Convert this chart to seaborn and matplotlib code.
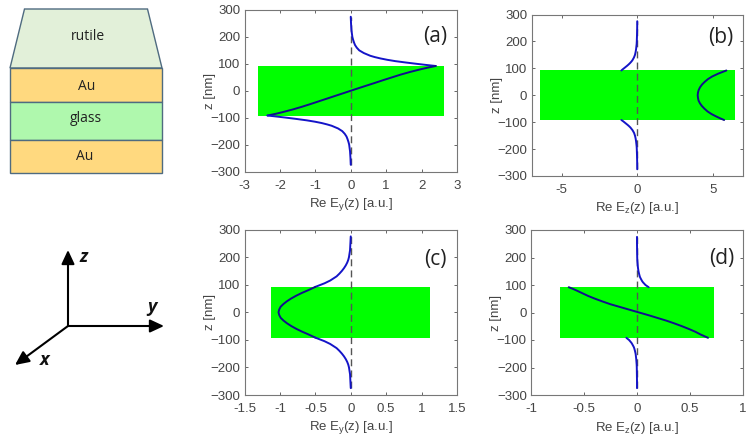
import matplotlib
matplotlib.use("Agg")
import matplotlib.pyplot as plt
from matplotlib.patches import Polygon, Rectangle
import seaborn as sns

W, H = 755, 446

# z grid of the outer branches and of the film
z_top = [92, 96, 100, 105, 110, 115, 120, 125, 130, 140, 150, 160, 170, 180, 190, 200, 225, 250, 275]
z_film = [92, 86, 80, 70, 60, 50, 40, 30, 20, 10, 0, -10, -20, -30, -40, -50, -60, -70, -80, -86, -92]
z_bot = [-v for v in z_top]

# (a)
a_top = [2.40, 2.12, 1.86, 1.55, 1.26, 1.03, 0.84, 0.68, 0.55, 0.37, 0.24, 0.17, 0.12, 0.09, 0.065, 0.045, 0.02, 0.008, 0.0]
a_film = [2.40, 2.18, 1.98, 1.68, 1.41, 1.17, 0.93, 0.70, 0.465, 0.23, 0.0, -0.23, -0.46, -0.69, -0.92, -1.15, -1.39, -1.65, -1.94, -2.13, -2.35]
a_bot = [-2.35, -2.08, -1.82, -1.52, -1.24, -1.01, -0.82, -0.67, -0.54, -0.36, -0.24, -0.17, -0.12, -0.09, -0.065, -0.045, -0.02, -0.008, 0.0]
# (b)
b_top = [-1.05, -0.97, -0.88, -0.77, -0.66, -0.56, -0.47, -0.39, -0.32, -0.22, -0.15, -0.11, -0.08, -0.06, -0.04, -0.03, -0.015, -0.005, 0.0]
b_film = [5.90, 5.62, 5.35, 4.97, 4.68, 4.47, 4.29, 4.16, 4.07, 4.02, 4.00, 4.02, 4.06, 4.15, 4.28, 4.45, 4.65, 4.92, 5.27, 5.50, 5.75]
b_bot = [-1.05, -0.95, -0.86, -0.75, -0.64, -0.54, -0.45, -0.38, -0.31, -0.21, -0.15, -0.11, -0.08, -0.06, -0.04, -0.03, -0.015, -0.005, 0.0]
# (c)
c_top = [-0.50, -0.46, -0.42, -0.37, -0.33, -0.29, -0.26, -0.23, -0.20, -0.16, -0.125, -0.095, -0.07, -0.05, -0.035, -0.025, -0.01, -0.005, 0.0]
c_film = [-0.50, -0.55, -0.60, -0.69, -0.77, -0.84, -0.90, -0.95, -0.99, -1.01, -1.02, -1.01, -0.99, -0.95, -0.90, -0.84, -0.77, -0.69, -0.60, -0.55, -0.50]
c_bot = c_top
# (d)
d_top = [0.11, 0.095, 0.08, 0.068, 0.056, 0.047, 0.04, 0.033, 0.027, 0.02, 0.014, 0.01, 0.007, 0.005, 0.003, 0.002, 0.001, 0.0, 0.0]
d_film = [-0.644, -0.605, -0.57, -0.515, -0.46, -0.395, -0.325, -0.25, -0.16, -0.07, 0.02, 0.11, 0.195, 0.28, 0.355, 0.425, 0.49, 0.55, 0.60, 0.635, 0.67]
d_bot = [-0.10, -0.088, -0.075, -0.064, -0.053, -0.045, -0.038, -0.031, -0.026, -0.019, -0.013, -0.01, -0.007, -0.005, -0.003, -0.002, -0.001, 0.0, 0.0]

xlabels = ["Re E$_y$(z) [a.u.]", "Re E$_z$(z) [a.u.]", "Re E$_y$(z) [a.u.]", "Re E$_z$(z) [a.u.]"]
panel_names = ["(a)", "(b)", "(c)", "(d)"]
xticks = [[-3, -2, -1, 0, 1, 2, 3], [-5, 0, 5], [-1.5, -1, -0.5, 0, 0.5, 1, 1.5], [-1, -0.5, 0, 0.5, 1]]
xticklabels = [["-3", "-2", "-1", "0", "1", "2", "3"], ["-5", "0", "5"],
               ["-1.5", "-1", "-0.5", "0", "0.5", "1", "1.5"], ["-1", "-0.5", "0", "0.5", "1"]]
xlims = [(-3, 3), (-7, 7), (-1.5, 1.5), (-1, 1)]
film_halfwidth = [2.63, 6.45, 1.12, 0.73]
film_z = 92
zticks = [-300, -200, -100, 0, 100, 200, 300]
curves = [(a_top, a_film, a_bot), (b_top, b_film, b_bot), (c_top, c_film, c_bot), (d_top, d_film, d_bot)]
# left, right, top, bottom in pixels
boxes = [(244.5, 457, 10, 171.5), (531.5, 743, 14.5, 176), (244.5, 457, 229.5, 395), (531, 743, 230, 395)]
name_pos = [(0.896, 0.839), (0.895, 0.86), (0.90, 0.816), (0.90, 0.83)]

sns.set_theme(style="white")
plt.rcParams["font.family"] = ["Liberation Sans", "DejaVu Sans"]
plt.rcParams["mathtext.default"] = "regular"

fig = plt.figure(figsize=(W / 100, H / 100), dpi=100)


def plot_panel(i):
    l, r, t, b = boxes[i]
    ax = fig.add_axes([l / W, 1 - b / H, (r - l) / W, (b - t) / H])
    w = film_halfwidth[i]
    ax.add_patch(Rectangle((-w, -film_z), 2 * w, 2 * film_z, color="#00ff00", lw=0, zorder=1))
    sns.lineplot(x=[0, 0], y=[-275, 275], ax=ax, color="#555555", lw=1, linestyle=(0, (5, 3)), sort=False, estimator=None, zorder=2)
    top, film, bot = curves[i]
    for xs, zs, col in [(top, z_top, "#1414c8"), (film, z_film, "#10108c"), (bot, z_bot, "#1414c8")]:
        sns.lineplot(x=xs, y=zs, ax=ax, color=col, lw=1.4, sort=False, estimator=None, zorder=3)
    ax.set_xlim(xlims[i])
    ax.set_ylim(-300, 300)
    ax.set_xticks(xticks[i])
    ax.set_xticklabels(xticklabels[i])
    ax.set_yticks(zticks)
    ax.tick_params(direction="in", length=2.5, width=0.7, color="#666666", labelcolor="#444444", labelsize=9.5,
                   top=True, right=True, left=True, bottom=True)
    ax.tick_params(axis="x", pad=6)
    ax.tick_params(axis="y", pad=3)
    for s in ax.spines.values():
        s.set_color("#777777")
        s.set_linewidth(0.8)
    ax.set_xlabel(xlabels[i], fontsize=9.5, color="#444444", labelpad=3)
    ax.set_ylabel("z [nm]", fontsize=9.5, color="#444444", labelpad=-4)
    ax.text(name_pos[i][0], name_pos[i][1], panel_names[i], transform=ax.transAxes, fontsize=15,
            color="#222222", family="Open Sans", ha="center", va="center")


for i in range(4):
    plot_panel(i)

# layer stack and axes sketch, drawn in pixel coordinates
ov = fig.add_axes([0, 0, 1, 1], zorder=5)
ov.set_xlim(0, W)
ov.set_ylim(H, 0)
ov.axis("off")
ov.patch.set_alpha(0)

edge = "#4f6b80"
ov.add_patch(Polygon([(24.5, 9), (147.5, 9), (162, 68), (10, 68)], fc="#e2f0d9", ec=edge, lw=1))
ov.add_patch(Rectangle((10, 68), 152, 34, fc="#ffd97f", ec=edge, lw=1))
ov.add_patch(Rectangle((10, 102), 152, 38, fc="#aff8ad", ec=edge, lw=1))
ov.add_patch(Rectangle((10, 140), 152, 33, fc="#ffd97f", ec=edge, lw=1))
for txt, x, y in [("rutile", 88, 36), ("Au", 87, 87), ("glass", 86, 119), ("Au", 85, 157)]:
    ov.text(x, y, txt, fontsize=10, color="#222222", family="Open Sans", ha="center", va="center")

origin = (68, 326)
for tip in [(68, 250), (164, 326), (15, 365)]:
    ov.annotate("", xy=tip, xytext=origin,
                arrowprops=dict(arrowstyle="-|>,head_length=0.6,head_width=0.28", color="black", lw=1.5,
                                shrinkA=0, shrinkB=0, mutation_scale=14))
for txt, x, y in [("z", 84, 257), ("y", 152, 307), ("x", 45, 360)]:
    ov.text(x, y, txt, fontsize=13, fontweight="bold", fontstyle="italic", color="#111111",
            family="Open Sans", ha="center", va="center")

fig.savefig("out.png", dpi=100)
